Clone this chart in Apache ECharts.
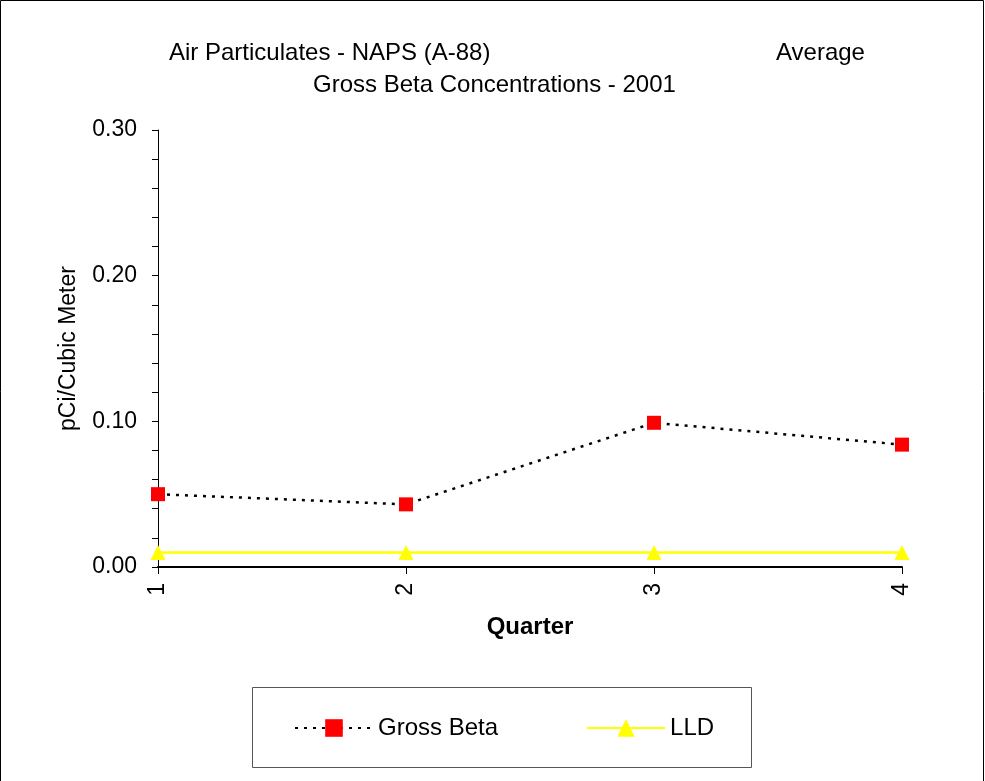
<!DOCTYPE html>
<html>
<head>
<meta charset="utf-8">
<script src="https://cdn.jsdelivr.net/npm/echarts@6/dist/echarts.min.js"></script>
<style>
  html, body { margin: 0; padding: 0; background: #fff; }
  #chart { width: 985px; height: 781px; }
</style>
</head>
<body>
<div id="chart"></div>
<script>
// Quarterly values
const quarters = ['1', '2', '3', '4'];
const grossBeta = [0.050, 0.043, 0.099, 0.084];
const lld = [0.010, 0.010, 0.010, 0.010];

const font = 'Arial, "Liberation Sans", sans-serif';

const chart = echarts.init(document.getElementById('chart'));

const titleStyle = { fontSize: 24, fontWeight: 'normal', color: '#000', fontFamily: font };

const option = {
    animation: false,
    backgroundColor: '#fff',
    textStyle: { fontFamily: font },
    title: [
        { text: 'Air Particulates - NAPS (A-88)', left: 169, top: 41, padding: 0, textStyle: titleStyle },
        { text: 'Average', left: 776, top: 41, padding: 0, textStyle: titleStyle },
        { text: 'Gross Beta Concentrations - 2001', left: 313, top: 73, padding: 0, textStyle: titleStyle }
    ],
    graphic: [
        // outer frame
        { type: 'rect', shape: { x: 0.5, y: 0.5, width: 983, height: 790 },
          style: { fill: null, stroke: '#000', lineWidth: 1 }, silent: true },
        // legend frame
        { type: 'rect', shape: { x: 252.5, y: 687.5, width: 499, height: 80 },
          style: { fill: null, stroke: '#555', lineWidth: 1 }, silent: true }
    ],
    legend: {
        left: 294, top: 716,
        itemWidth: 78, itemHeight: 22,
        itemGap: 88,
        padding: 0,
        textStyle: { fontSize: 24, color: '#000', fontFamily: font },
        data: ['Gross Beta', 'LLD']
    },
    grid: { left: 158, right: 83, top: 130, bottom: 214, containLabel: false },
    xAxis: {
        type: 'category',
        data: quarters,
        boundaryGap: false,
        name: 'Quarter',
        nameLocation: 'middle',
        nameGap: 48,
        nameTextStyle: { fontSize: 24, fontWeight: 'bold', color: '#000', fontFamily: font },
        axisLine: { lineStyle: { color: '#000', width: 2 } },
        axisTick: { alignWithLabel: true, length: 7, lineStyle: { color: '#000' } },
        axisLabel: { rotate: 90, fontSize: 23, color: '#000', margin: 16, fontFamily: font },
        splitLine: { show: false }
    },
    yAxis: {
        type: 'value',
        min: 0, max: 0.30, interval: 0.10,
        name: 'pCi/Cubic Meter',
        nameLocation: 'middle',
        nameGap: 78,
        nameRotate: 90,
        nameTextStyle: { fontSize: 23, color: '#000', fontFamily: font },
        axisLine: { show: true, lineStyle: { color: '#000', width: 1 } },
        axisTick: { show: true, length: 6, lineStyle: { color: '#000' } },
        minorTick: { show: true, splitNumber: 5, length: 6, lineStyle: { color: '#000' } },
        axisLabel: { fontSize: 23, color: '#000', margin: 21, fontFamily: font,
                     formatter: v => v.toFixed(2) },
        splitLine: { show: false }
    },
    series: [
        {
            name: 'Gross Beta',
            type: 'line',
            data: grossBeta,
            symbol: 'rect',
            symbolSize: 14,
            itemStyle: { color: '#ff0000' },
            lineStyle: { color: '#000', width: 2.5, type: [3, 6] },
            z: 3
        },
        {
            name: 'LLD',
            type: 'line',
            data: lld,
            symbol: 'triangle',
            symbolSize: 15,
            itemStyle: { color: '#ffff00' },
            lineStyle: { color: '#ffff00', width: 2.5 },
            z: 2
        }
    ]
};

chart.setOption(option);
</script>
</body>
</html>
